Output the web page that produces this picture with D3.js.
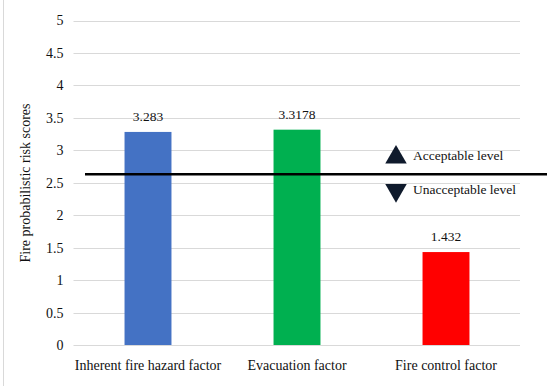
<!DOCTYPE html>
<html>
<head>
<meta charset="utf-8">
<script src="https://cdn.jsdelivr.net/npm/d3@7"></script>
<style>
  body { margin: 0; background: #fff; }
  text { font-family: "Liberation Serif", "DejaVu Serif", serif; fill: #111; }
</style>
</head>
<body>
<div id="chart"></div>
<script>
var categories = ["Inherent fire hazard factor", "Evacuation factor", "Fire control factor"];
var scores = [3.283, 3.3178, 1.432];
var scoreLabels = ["3.283", "3.3178", "1.432"];
var barColors = ["#4472c4", "#00b050", "#ff0000"];
var yTicks = [0, 0.5, 1, 1.5, 2, 2.5, 3, 3.5, 4, 4.5, 5];
var threshold = 2.63;
var legendItems = ["Acceptable level", "Unacceptable level"];

var W = 550, H = 386;
var margin = {top: 20.5, right: 30, bottom: 41, left: 73.5};

var svg = d3.select("#chart").append("svg")
    .attr("width", W)
    .attr("height", H);

// frame edge on the left
svg.append("line")
    .attr("x1", 3.5).attr("x2", 3.5)
    .attr("y1", 0).attr("y2", H)
    .attr("stroke", "#d9d9d9");

var x = d3.scaleBand()
    .domain(categories)
    .range([margin.left, W - margin.right + 0.5])
    .paddingInner(0.685)
    .paddingOuter(0.3425);

var y = d3.scaleLinear()
    .domain([0, 5])
    .range([H - margin.bottom, margin.top]);

// gridlines
svg.append("g")
    .selectAll("line")
    .data(yTicks)
    .enter().append("line")
    .attr("x1", margin.left)
    .attr("x2", W - margin.right)
    .attr("y1", d => Math.round(y(d)) + 0.5)
    .attr("y2", d => Math.round(y(d)) + 0.5)
    .attr("stroke", "#d9d9d9")
    .attr("stroke-width", 1);

// y axis labels
var yAxis = d3.axisLeft(y).tickValues(yTicks).tickSize(0).tickPadding(10)
    .tickFormat(d3.format("~g"));
var gy = svg.append("g")
    .attr("transform", "translate(" + margin.left + ",0)")
    .call(yAxis);
gy.select(".domain").remove();
gy.selectAll("text")
    .style("font-family", "'Liberation Serif', serif")
    .style("font-size", "14px")
    .attr("fill", "#222");

// bars
svg.append("g")
    .selectAll("rect")
    .data(scores)
    .enter().append("rect")
    .attr("x", (d, i) => x(categories[i]))
    .attr("y", d => y(d))
    .attr("width", x.bandwidth())
    .attr("height", d => y(0) - y(d))
    .attr("fill", (d, i) => barColors[i]);

// value labels
svg.append("g")
    .selectAll("text")
    .data(scores)
    .enter().append("text")
    .attr("x", (d, i) => x(categories[i]) + x.bandwidth() / 2)
    .attr("y", d => y(d) - 11)
    .attr("text-anchor", "middle")
    .style("font-size", "13.5px")
    .text((d, i) => scoreLabels[i]);

// category labels
var xAxis = d3.axisBottom(x).tickSize(0).tickPadding(15);
var gx = svg.append("g")
    .attr("transform", "translate(0," + y(0) + ")")
    .call(xAxis);
gx.select(".domain").remove();
gx.selectAll("text")
    .style("font-family", "'Liberation Serif', serif")
    .style("font-size", "14px")
    .attr("fill", "#111");

// threshold line
svg.append("line")
    .attr("x1", 85).attr("x2", 547)
    .attr("y1", y(threshold)).attr("y2", y(threshold))
    .attr("stroke", "#000")
    .attr("stroke-width", 2.5);

// legend arrows
var lx = 396;
var tri = d3.symbol().type(d3.symbolTriangle).size(200);
svg.append("path")
    .attr("d", tri)
    .attr("transform", "translate(" + lx + "," + (y(threshold) - 17) + ")")
    .attr("fill", "#0f1a2c");
svg.append("path")
    .attr("d", tri)
    .attr("transform", "translate(" + lx + "," + (y(threshold) + 16) + ") rotate(180)")
    .attr("fill", "#0f1a2c");

svg.append("text")
    .attr("x", 413).attr("y", y(threshold) - 14)
    .style("font-size", "13.5px")
    .text(legendItems[0]);
svg.append("text")
    .attr("x", 413).attr("y", y(threshold) + 20)
    .style("font-size", "13.5px")
    .text(legendItems[1]);

// y axis title
svg.append("text")
    .attr("transform", "translate(30," + 183 + ") rotate(-90)")
    .attr("text-anchor", "middle")
    .style("font-size", "14px")
    .text("Fire probabilistic risk scores");
</script>
</body>
</html>
